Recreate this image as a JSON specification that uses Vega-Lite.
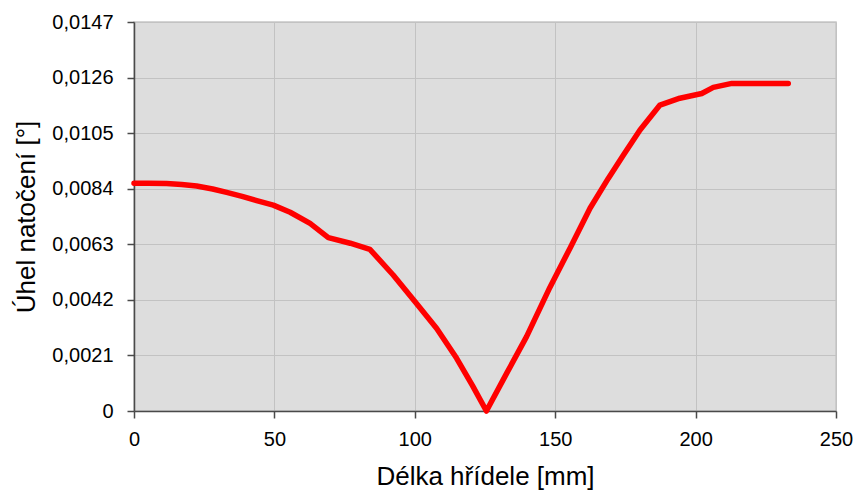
{
  "$schema": "https://vega.github.io/schema/vega-lite/v6.json",
  "width": 702,
  "height": 389,
  "autosize": "none",
  "padding": {"left": 134, "top": 22, "right": 22, "bottom": 80},
  "background": "#ffffff",
  "config": {
    "font": "Liberation Sans",
    "view": {"fill": "#dddddd", "stroke": "#c6c6c6", "strokeWidth": 1.5},
    "axis": {
      "grid": true,
      "gridColor": "#c2c2c2",
      "gridWidth": 1,
      "domainColor": "#4a4a4a",
      "domainWidth": 1.5,
      "tickColor": "#4a4a4a",
      "tickWidth": 1.5,
      "tickSize": 7,
      "labelFlush": false,
      "labelOverlap": false,
      "labelFont": "Liberation Sans",
      "labelFontSize": 20,
      "labelColor": "#000000",
      "titleFont": "Liberation Sans",
      "titleFontSize": 26,
      "titleFontWeight": "normal",
      "titleColor": "#000000"
    }
  },
  "data": {
    "values": [
      {"x": 0, "y": 0.00861},
      {"x": 5, "y": 0.00861},
      {"x": 11.6, "y": 0.0086},
      {"x": 17, "y": 0.00856},
      {"x": 22.3, "y": 0.0085},
      {"x": 28, "y": 0.00839},
      {"x": 33, "y": 0.00826},
      {"x": 38.5, "y": 0.00811},
      {"x": 43.7, "y": 0.00795},
      {"x": 49.6, "y": 0.00778},
      {"x": 55.6, "y": 0.00751},
      {"x": 62.7, "y": 0.00709},
      {"x": 69.2, "y": 0.00655},
      {"x": 77, "y": 0.00634},
      {"x": 84, "y": 0.00611},
      {"x": 92.3, "y": 0.00514},
      {"x": 100.1, "y": 0.00413},
      {"x": 107.8, "y": 0.00312},
      {"x": 114.9, "y": 0.00199},
      {"x": 120.5, "y": 0.00097},
      {"x": 125.5, "y": 0.0},
      {"x": 132.7, "y": 0.00142},
      {"x": 139.8, "y": 0.00281},
      {"x": 148.1, "y": 0.00467},
      {"x": 155.5, "y": 0.0062},
      {"x": 162.4, "y": 0.00766},
      {"x": 168.9, "y": 0.00879},
      {"x": 174.3, "y": 0.00967},
      {"x": 180.2, "y": 0.01062},
      {"x": 187.3, "y": 0.01156},
      {"x": 194.4, "y": 0.01182},
      {"x": 202.2, "y": 0.012},
      {"x": 206.3, "y": 0.01223},
      {"x": 212.9, "y": 0.01238},
      {"x": 220, "y": 0.01238},
      {"x": 233.0, "y": 0.01238}
    ]
  },
  "mark": {"type": "line", "color": "#ff0000", "strokeWidth": 5.5, "strokeCap": "round", "strokeJoin": "round"},
  "encoding": {
    "x": {
      "field": "x",
      "type": "quantitative",
      "scale": {"domain": [0, 250], "nice": false, "zero": true},
      "axis": {
        "title": "Délka hřídele [mm]",
        "values": [0, 50, 100, 150, 200, 250],
        "labelPadding": 11,
        "titlePadding": 14
      }
    },
    "y": {
      "field": "y",
      "type": "quantitative",
      "scale": {"domain": [0, 0.0147], "nice": false},
      "axis": {
        "title": "Úhel natočení [°]",
        "values": [0, 0.0021, 0.0042, 0.0063, 0.0084, 0.0105, 0.0126, 0.0147],
        "labelExpr": "datum.value == 0 ? '0' : replace(format(datum.value, '.4f'), '.', ',')",
        "labelPadding": 14,
        "titlePadding": 12
      }
    }
  }
}
